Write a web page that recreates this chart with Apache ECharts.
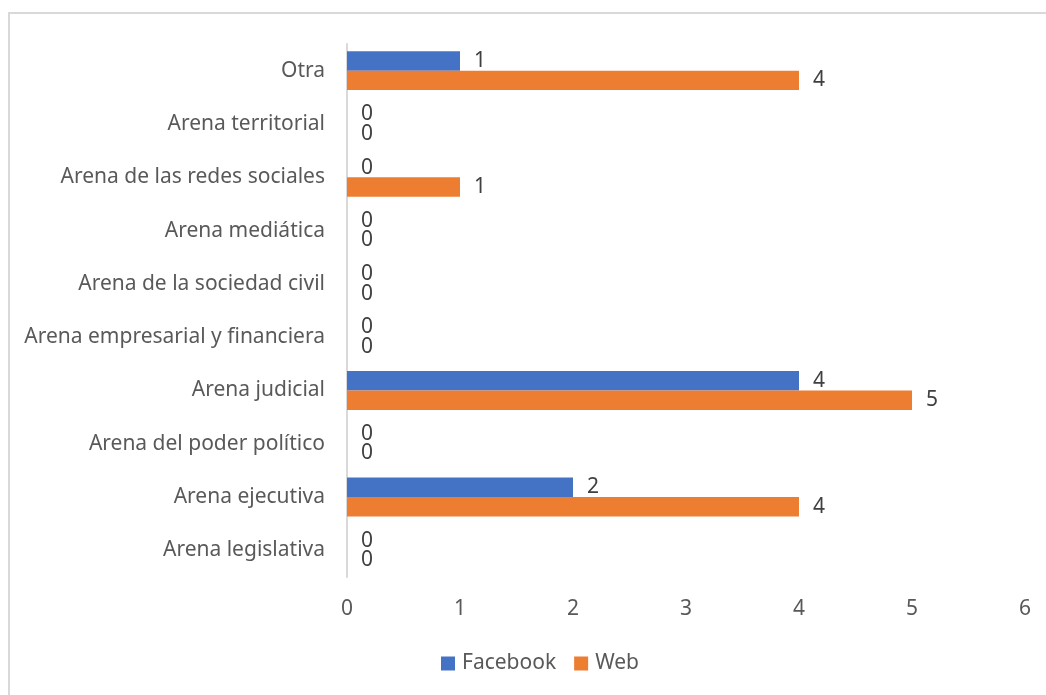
<!DOCTYPE html>
<html>
<head>
<meta charset="utf-8">
<script src="https://cdn.jsdelivr.net/npm/echarts@6/dist/echarts.min.js"></script>
<style>
  html, body { margin: 0; padding: 0; background: #fff; overflow: hidden; }
  #frame { position: absolute; left: 8px; top: 12px; width: 1100px; height: 760px;
           border-left: 2px solid #D9D9D9; border-top: 2px solid #D9D9D9; }
  #chart { position: absolute; left: 0; top: 0; width: 1046px; height: 695px; }
</style>
</head>
<body>
<div id="frame"></div>
<div id="chart"></div>
<script>
const categories = ['Arena legislativa', 'Arena ejecutiva', 'Arena del poder político', 'Arena judicial',
  'Arena empresarial y financiera', 'Arena de la sociedad civil', 'Arena mediática',
  'Arena de las redes sociales', 'Arena territorial', 'Otra'];
const facebook = [0, 2, 0, 4, 0, 0, 0, 0, 0, 1];
const web = [0, 4, 0, 5, 0, 0, 0, 1, 0, 4];
const xTicks = [0, 1, 2, 3, 4, 5, 6];

const font = 'Noto Sans';
const fs = 21;
const chart = echarts.init(document.getElementById('chart'));

const label = {
  show: true,
  position: 'right',
  distance: 14,
  color: '#404040',
  fontSize: fs,
  fontFamily: font
};

const option = {
  animation: false,
  textStyle: { fontFamily: font },
  grid: { left: 347, right: 21, top: 44, bottom: 118, containLabel: false },
  legend: {
    bottom: 16,
    left: 436,
    itemWidth: 14,
    itemHeight: 14,
    itemGap: 18,
    icon: 'rect',
    textStyle: { color: '#595959', fontSize: fs, fontFamily: font, padding: [0, 0, 0, 2] },
    data: ['Facebook', 'Web']
  },
  xAxis: {
    type: 'value',
    min: 0,
    max: 6,
    interval: 1,
    axisLine: { show: false },
    axisTick: { show: false },
    splitLine: { show: false },
    axisLabel: {
      color: '#595959', fontSize: fs, fontFamily: font, margin: 22,
      formatter: v => xTicks.includes(v) ? String(v) : ''
    }
  },
  yAxis: {
    type: 'category',
    data: categories,
    axisLine: { show: true, lineStyle: { color: '#D9D9D9', width: 2 } },
    axisTick: { show: false },
    axisLabel: { color: '#595959', fontSize: fs, fontFamily: font, margin: 22 }
  },
  series: [
    {
      name: 'Facebook',
      type: 'bar',
      data: facebook,
      itemStyle: { color: '#4472C4' },
      barGap: '0%',
      barCategoryGap: '27%',
      label: label
    },
    {
      name: 'Web',
      type: 'bar',
      data: web,
      itemStyle: { color: '#ED7D31' },
      barGap: '0%',
      barCategoryGap: '27%',
      label: label
    }
  ]
};

chart.setOption(option);
</script>
</body>
</html>
